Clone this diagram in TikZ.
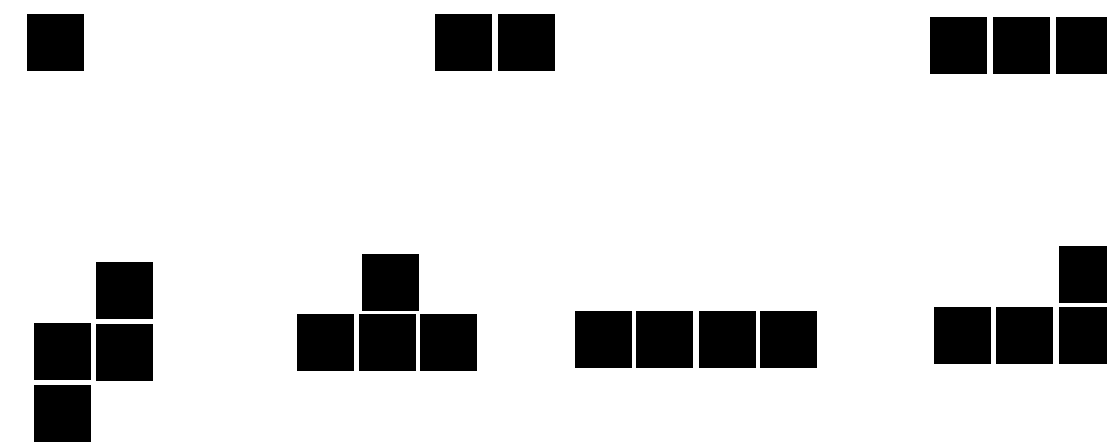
\documentclass[tikz,border=0pt]{standalone}
\tikzset{
  cell/.style={fill=black, draw=none, minimum size=57pt, inner sep=0pt, outer sep=0pt, shape=rectangle},
}
\begin{document}
\begin{tikzpicture}[x=1pt,y=-1pt]
\useasboundingbox (0,0) rectangle (1107,445);
\clip (0,0) rectangle (1107,445);
\fill[white] (0,0) rectangle (1107,445);
% top row
\node[cell] (a1) at (55,42) {};
\node[cell] (b1) at (463,42) {};
\node[cell] (b2) at (526,42) {};
\node[cell] (c1) at (958,45) {};
\node[cell] (c2) at (1021,45) {};
\node[cell] (c3) at (1084,45) {};
% S piece
\node[cell] (s1) at (124,290) {};
\node[cell] (s2) at (62,351) {};
\node[cell] (s3) at (124,352) {};
\node[cell] (s4) at (62,413) {};
% T piece
\node[cell] (t0) at (390,282) {};
\node[cell] (t1) at (325,342) {};
\node[cell] (t2) at (387,342) {};
\node[cell] (t3) at (448,342) {};
% I piece
\node[cell] (i1) at (603,339) {};
\node[cell] (i2) at (664,339) {};
\node[cell] (i3) at (727,339) {};
\node[cell] (i4) at (788,339) {};
% L piece
\node[cell] (l1) at (962,335) {};
\node[cell] (l2) at (1024,335) {};
\node[cell] (l3) at (1087,335) {};
\node[cell] (l0) at (1087,274) {};
\end{tikzpicture}
\end{document}
